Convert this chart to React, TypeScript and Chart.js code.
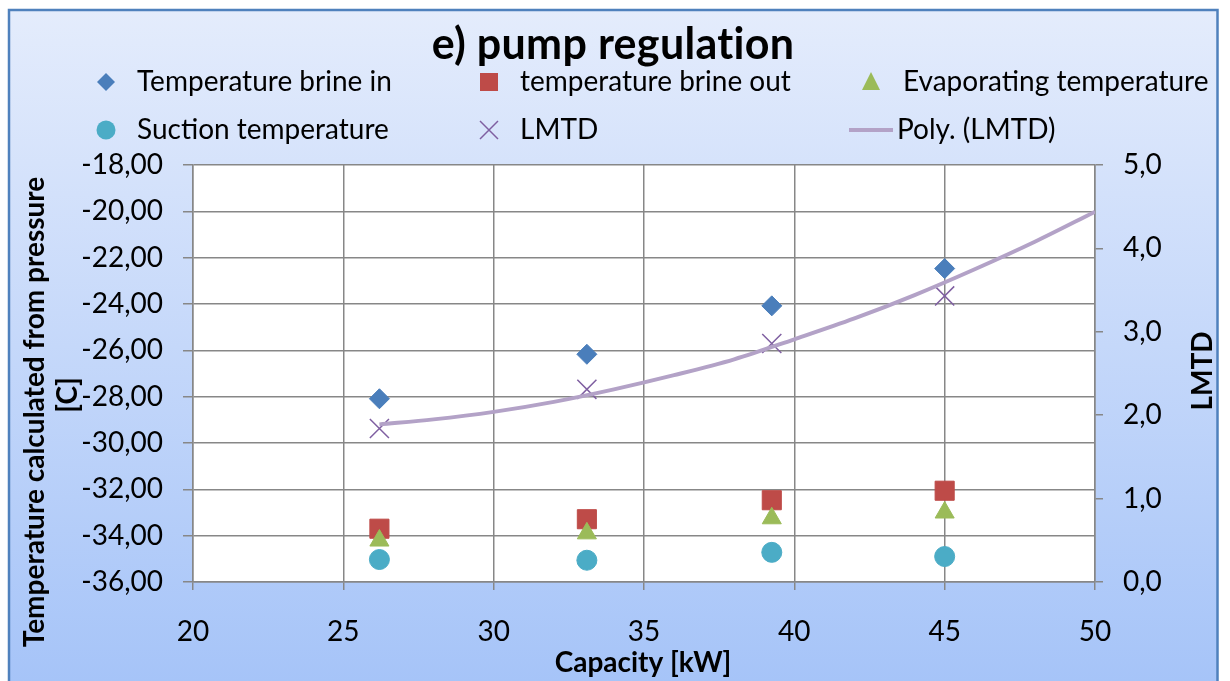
import { useEffect, useRef } from 'react';
import { Chart, registerables } from 'chart.js';

Chart.register(...registerables);

// ---- data ----
const capacity = [26.2, 33.1, 39.25, 45.0];
const brineIn = [-28.09, -26.17, -24.08, -22.47];
const brineOut = [-33.7, -33.29, -32.47, -32.06];
const evaporating = [-34.21, -33.9, -33.25, -33.0];
const suction = [-35.03, -35.06, -34.72, -34.9];
const lmtd = [1.84, 2.31, 2.86, 3.43];
const polyX = [26.2, 28, 30, 32, 34, 36, 38, 40, 42, 44, 46, 48, 50];
const polyY = [1.89, 1.95, 2.04, 2.16, 2.31, 2.48, 2.67, 2.91, 3.16, 3.44, 3.75, 4.08, 4.44];

const xRange = [20, 50, 5];
const yLeftRange = [-36, -18, 2];
const yRightRange = [0, 5, 1];

const titleText = 'e) pump regulation';
const xTitle = 'Capacity [kW]';
const yTitleLines = ['Temperature calculated from pressure', '[C]'];
const y1Title = 'LMTD';
const seriesNames = [
  'Temperature brine in',
  'temperature brine out',
  'Evaporating temperature',
  'Suction temperature',
  'LMTD',
  'Poly. (LMTD)',
];

const C_IN = '#4A7EBB';
const C_OUT = '#BE4B48';
const C_EVAP = '#9BBB59';
const C_SUC = '#4BACC6';
const C_LMTD = '#7F5FA1';
const C_POLY = '#B3A2C7';
const GRID = '#878787';
const FONT = 'Lato, "Open Sans", sans-serif';

const pts = (xs: number[], ys: number[]) => xs.map((x, i) => ({ x, y: ys[i] }));

function drawMarker(ctx: CanvasRenderingContext2D, kind: string, x: number, y: number) {
  ctx.save();
  ctx.beginPath();
  if (kind === 'diamond') {
    ctx.fillStyle = C_IN;
    ctx.moveTo(x - 9, y); ctx.lineTo(x, y - 9); ctx.lineTo(x + 9, y); ctx.lineTo(x, y + 9);
    ctx.closePath(); ctx.fill();
  } else if (kind === 'square') {
    ctx.fillStyle = C_OUT;
    ctx.fillRect(x - 9, y - 9, 18, 18);
  } else if (kind === 'triangle') {
    ctx.fillStyle = C_EVAP;
    ctx.moveTo(x, y - 10); ctx.lineTo(x + 9, y + 8); ctx.lineTo(x - 9, y + 8);
    ctx.closePath(); ctx.fill();
  } else if (kind === 'circle') {
    ctx.fillStyle = C_SUC;
    ctx.arc(x, y, 9.5, 0, Math.PI * 2); ctx.fill();
  } else if (kind === 'cross') {
    ctx.strokeStyle = C_LMTD; ctx.lineWidth = 1.5;
    ctx.moveTo(x - 9, y - 9); ctx.lineTo(x + 9, y + 9);
    ctx.moveTo(x + 9, y - 9); ctx.lineTo(x - 9, y + 9);
    ctx.stroke();
  }
  ctx.restore();
}

const bgPlugin = {
  id: 'bgPlugin',
  beforeDraw(chart: any) {
    const { ctx, width, height, chartArea } = chart;
    ctx.save();
    ctx.fillStyle = '#ffffff';
    ctx.fillRect(0, 0, width, height);
    const g = ctx.createLinearGradient(0, 10, 0, height);
    g.addColorStop(0, '#E4ECFC');
    g.addColorStop(1, '#A6C4F8');
    ctx.fillStyle = g;
    ctx.fillRect(9, 10, 1209, height);
    ctx.strokeStyle = '#4F81BD';
    ctx.lineWidth = 2.5;
    ctx.strokeRect(9, 10, 1208.5, height + 10);
    ctx.fillStyle = '#ffffff';
    ctx.fillRect(chartArea.left, chartArea.top, chartArea.right - chartArea.left, chartArea.bottom - chartArea.top);
    ctx.restore();
  },
};

const textPlugin = {
  id: 'textPlugin',
  afterDraw(chart: any) {
    const ctx = chart.ctx as any;
    ctx.save();
    ctx.fillStyle = '#000';
    ctx.textBaseline = 'middle';
    // title (letter spacing keeps the "ti" pair un-ligated)
    ctx.textAlign = 'center';
    ctx.font = `bold 43px ${FONT}`;
    ctx.letterSpacing = '0.3px';
    ctx.fillText(titleText, 613, 45);
    ctx.letterSpacing = '0px';
    // legend
    ctx.textAlign = 'left';
    ctx.font = `28px ${FONT}`;
    const rows = [82, 130];
    const cols = [106, 489, 871];
    const texts = [137, 520, 903];
    const kinds = ['diamond', 'square', 'triangle', 'circle', 'cross', 'line'];
    kinds.forEach((k, i) => {
      const r = rows[Math.floor(i / 3)];
      const c = i % 3;
      if (k === 'line') {
        ctx.save();
        ctx.strokeStyle = C_POLY; ctx.lineWidth = 4;
        ctx.beginPath(); ctx.moveTo(849, r); ctx.lineTo(893, r); ctx.stroke();
        ctx.restore();
        ctx.fillText(seriesNames[i], 897, r);
      } else {
        drawMarker(ctx, k, cols[c], r);
        ctx.fillText(seriesNames[i], texts[c], r);
      }
    });
    // axis titles
    ctx.font = `bold 28px ${FONT}`;
    ctx.textAlign = 'center';
    ctx.fillText(xTitle, 643, 663);
    ctx.save();
    ctx.translate(35, 412);
    ctx.rotate(-Math.PI / 2);
    ctx.fillText(yTitleLines[0], 0, 0);
    ctx.restore();
    ctx.save();
    ctx.translate(68, 395);
    ctx.rotate(-Math.PI / 2);
    ctx.fillText(yTitleLines[1], 0, 0);
    ctx.restore();
    ctx.save();
    ctx.translate(1203, 371);
    ctx.rotate(-Math.PI / 2);
    ctx.fillText(y1Title, 0, 0);
    ctx.restore();
    ctx.restore();
  },
};

export default function App() {
  const ref = useRef<HTMLCanvasElement>(null);
  useEffect(() => {
    if (!ref.current) return;
    const tickFont = { family: FONT, size: 28 };
    const chart = new Chart(ref.current, {
      type: 'scatter',
      data: {
        datasets: [
          {
            label: seriesNames[0], data: pts(capacity, brineIn), yAxisID: 'y', order: 6,
            pointStyle: 'rectRot', pointRadius: 10, backgroundColor: C_IN, borderColor: C_IN, borderWidth: 1,
          },
          {
            label: seriesNames[1], data: pts(capacity, brineOut), yAxisID: 'y', order: 5,
            pointStyle: 'rect', pointRadius: 13.5, backgroundColor: C_OUT, borderColor: C_OUT, borderWidth: 1,
          },
          {
            label: seriesNames[2], data: pts(capacity, evaporating), yAxisID: 'y', order: 4,
            pointStyle: 'triangle', pointRadius: 11, backgroundColor: C_EVAP, borderColor: C_EVAP, borderWidth: 1,
          },
          {
            label: seriesNames[3], data: pts(capacity, suction), yAxisID: 'y', order: 3,
            pointStyle: 'circle', pointRadius: 10, backgroundColor: C_SUC, borderColor: C_SUC, borderWidth: 1,
          },
          {
            label: seriesNames[4], data: pts(capacity, lmtd), yAxisID: 'y1', order: 2,
            pointStyle: 'crossRot', pointRadius: 13.5, backgroundColor: C_LMTD, borderColor: C_LMTD, borderWidth: 1.5,
          },
          {
            label: seriesNames[5], data: pts(polyX, polyY), yAxisID: 'y1', order: 1,
            showLine: true, pointRadius: 0, borderColor: C_POLY, borderWidth: 4, cubicInterpolationMode: 'monotone',
            backgroundColor: C_POLY,
          } as any,
        ],
      },
      options: {
        animation: false,
        responsive: true,
        maintainAspectRatio: false,
        events: [],
        layout: { padding: { top: 165, left: 0, right: 0, bottom: 0 } },
        plugins: { legend: { display: false }, tooltip: { enabled: false }, title: { display: false } },
        scales: {
          x: {
            type: 'linear', min: xRange[0], max: xRange[1],
            ticks: { stepSize: xRange[2], font: tickFont, color: '#000', padding: 25, maxRotation: 0 },
            grid: { color: GRID, lineWidth: 1.5, tickLength: 8 },
            border: { color: GRID, width: 1.5 },
            afterFit: (s: any) => { s.height = 99; },
          },
          y: {
            type: 'linear', position: 'left', min: yLeftRange[0], max: yLeftRange[1],
            ticks: {
              stepSize: yLeftRange[2], font: tickFont, color: '#000', padding: 20,
              callback: (v: any) => Number(v).toFixed(2).replace('.', ','),
            },
            grid: { color: GRID, lineWidth: 1.5, tickLength: 10 },
            border: { color: GRID, width: 1.5 },
            afterFit: (s: any) => { s.width = 193; },
          },
          y1: {
            type: 'linear', position: 'right', min: yRightRange[0], max: yRightRange[1],
            ticks: {
              stepSize: yRightRange[2], font: tickFont, color: '#000', padding: 20,
              callback: (v: any) => Number(v).toFixed(1).replace('.', ','),
            },
            grid: { drawOnChartArea: false, color: GRID, lineWidth: 1.5, tickLength: 8 },
            border: { color: GRID, width: 1.5 },
            afterFit: (s: any) => { s.width = 135; },
          },
        },
      } as any,
      plugins: [bgPlugin, textPlugin],
    });
    return () => chart.destroy();
  }, []);
  return (
    <div style={{ position: 'fixed', left: 0, top: 0, width: 1230, height: 681 }}>
      <canvas ref={ref} />
    </div>
  );
}
